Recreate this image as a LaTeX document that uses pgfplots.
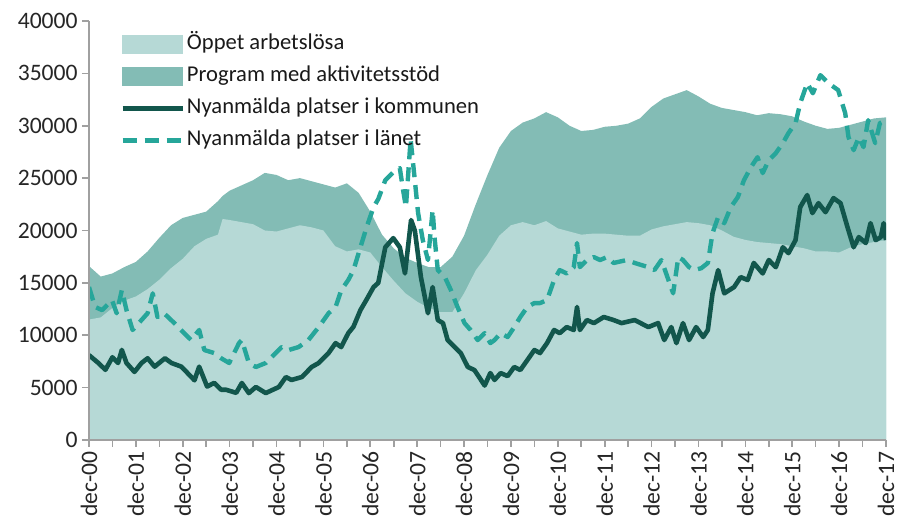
\documentclass[border=0pt]{standalone}
\usepackage{fontspec}
\setmainfont{Carlito}
\usepackage{pgfplots}
\pgfplotsset{compat=1.18}
\usepackage{pgfplotstable}
\definecolor{lightc}{RGB}{182,217,214}
\definecolor{darkc}{RGB}{131,188,181}
\definecolor{komc}{RGB}{18,86,76}
\definecolor{lanc}{RGB}{38,166,154}
\definecolor{axc}{RGB}{160,160,160}

% t = years after dec-00; L = Öppet arbetslösa; P = Program med aktivitetsstöd
\pgfplotstableread{
t L P
0 11500 5100
0.25 11700 3900
0.5 12600 3300
0.75 13300 3200
1.0 13700 3300
1.25 14400 3600
1.5 15300 4000
1.75 16400 4100
2.0 17300 3900
2.25 18500 3000
2.5 19200 2600
2.75 19600 3200
2.85 21100 2200
3.0 21000 2800
3.25 20800 3500
3.5 20600 4200
3.75 20000 5500
4.0 19900 5400
4.25 20200 4600
4.5 20500 4500
4.75 20300 4400
5.0 20000 4400
5.25 18500 5600
5.5 18000 6500
5.75 18200 5400
6.0 17900 3900
6.25 16500 3100
6.5 15200 3100
6.75 14000 3400
7.0 13200 3700
7.25 12600 3900
7.5 12200 4300
7.75 12200 5300
8.0 14000 5500
8.25 16200 6300
8.5 17700 7600
8.75 19500 8400
9.0 20500 9000
9.25 20800 9500
9.5 20500 10200
9.75 20900 10400
10.0 20200 10600
10.25 19900 10100
10.5 19600 9900
10.75 19700 9900
11.0 19700 10200
11.25 19600 10400
11.5 19500 10700
11.75 19500 11200
12.0 20100 11700
12.25 20400 12200
12.5 20600 12400
12.75 20800 12600
13.0 20700 12100
13.25 20500 11600
13.5 20000 11700
13.75 19400 12100
14.0 19100 12200
14.25 18900 12100
14.5 18800 12400
14.75 18700 12400
15.0 18500 12400
15.25 18300 12100
15.5 18000 12000
15.75 18000 11700
16.0 17900 11900
16.25 18400 11700
16.5 18700 11700
16.75 18900 11800
17.0 19100 11700
}\areadata

% Nyanmälda platser i kommunen
\pgfplotstableread{
t v
0 8100
0.2 7350
0.35 6700
0.5 7900
0.62 7350
0.7 8600
0.8 7350
0.97 6500
1.12 7350
1.25 7800
1.4 7000
1.62 7800
1.76 7350
1.97 7000
2.1 6400
2.25 5700
2.35 7000
2.52 5100
2.67 5450
2.82 4800
2.92 4800
3.14 4500
3.26 5440
3.41 4480
3.56 5060
3.77 4480
4.05 5060
4.2 6010
4.32 5730
4.54 6010
4.75 6970
4.9 7350
5.11 8300
5.26 9250
5.38 8870
5.53 10200
5.64 10800
5.79 12400
5.92 13400
6.07 14600
6.17 15000
6.32 18400
6.49 19270
6.63 18400
6.74 15900
6.87 21000
6.95 20000
7.08 15550
7.23 12100
7.33 14600
7.44 11450
7.55 11160
7.65 9540
7.8 8870
7.93 8300
8.08 6970
8.22 6680
8.44 5200
8.56 6390
8.65 5730
8.78 6390
8.93 6100
9.07 6970
9.2 6680
9.35 7630
9.5 8590
9.62 8300
9.77 9250
9.92 10500
10.04 10200
10.19 10780
10.34 10500
10.41 12700
10.47 10500
10.62 11450
10.77 11160
10.98 11740
11.19 11450
11.36 11160
11.64 11450
11.93 10780
12.14 11160
12.27 9540
12.42 10780
12.53 9250
12.67 11160
12.8 9540
12.95 10780
13.1 9830
13.2 10500
13.3 14000
13.42 16220
13.55 14000
13.76 14600
13.9 15550
14.05 15270
14.18 16900
14.37 15900
14.5 17180
14.65 16500
14.8 18400
14.92 17840
15.07 19080
15.17 22230
15.32 23380
15.43 21660
15.56 22610
15.71 21750
15.88 23090
16.03 22610
16.18 20300
16.31 18400
16.42 19370
16.57 18800
16.67 20700
16.78 19080
16.89 19370
16.95 20700
17.0 19080
}\komdata

% Nyanmälda platser i länet
\pgfplotstableread{
t v
0 14600
0.13 12700
0.28 12400
0.49 13360
0.59 12100
0.7 14300
0.8 12400
0.93 10500
1.12 11450
1.25 12100
1.36 14000
1.46 11740
1.6 12100
1.82 11160
2.03 10200
2.18 9540
2.35 10500
2.46 8590
2.67 8300
2.82 7800
2.99 7350
3.2 9250
3.26 9540
3.41 7350
3.56 6970
3.77 7350
3.98 8300
4.11 8870
4.26 8590
4.47 8870
4.68 9540
4.9 10780
5.11 12100
5.26 12700
5.38 14300
5.53 15270
5.64 16200
5.79 18400
5.92 20300
6.07 22230
6.17 23000
6.32 24800
6.49 25570
6.63 25950
6.7 23850
6.76 22230
6.86 28700
6.95 24800
7.02 21660
7.12 19080
7.23 17180
7.33 21950
7.37 19370
7.44 16220
7.59 15550
7.72 14300
7.86 12700
8.01 11160
8.14 10500
8.29 9540
8.44 10200
8.56 9250
8.65 9540
8.78 10200
8.93 9830
9.07 10780
9.2 11740
9.35 12700
9.5 13070
9.62 13070
9.77 13360
9.92 15270
10.04 16220
10.19 15900
10.34 16500
10.41 18800
10.47 16500
10.62 17180
10.77 17460
10.9 17180
11.05 17460
11.19 16900
11.47 17180
11.64 16900
11.93 16500
12.06 16220
12.21 17180
12.36 15270
12.46 14000
12.57 17460
12.67 17180
12.8 16500
12.91 16220
13.06 16400
13.2 16900
13.3 19750
13.42 21280
13.55 20700
13.69 22230
13.84 23190
13.97 24800
14.12 26050
14.26 27000
14.37 25480
14.5 26720
14.65 27390
14.8 28340
14.92 29300
15.07 30250
15.17 32150
15.32 34070
15.44 33100
15.6 34830
15.77 34070
15.98 33400
16.13 31200
16.2 28910
16.31 27670
16.42 28910
16.52 27960
16.62 30530
16.77 28340
16.87 30250
17.0 30530
}\landata

\begin{document}
\begin{tikzpicture}
\begin{axis}[name=ax, scale only axis, width=398.5pt, height=209.5pt,
  xmin=0, xmax=17, ymin=0, ymax=40000,
  axis x line=bottom, axis y line=left,
  axis line style={-, draw=axc, line width=0.8pt},
  tick align=outside, major tick length=3.5pt, minor tick length=3.5pt,
  every tick/.style={draw=axc, line width=0.8pt},
  xtick={0,...,17}, minor xtick={0.5,1.5,...,16.5},
  xticklabels={dec-00,dec-01,dec-02,dec-03,dec-04,dec-05,dec-06,dec-07,dec-08,dec-09,dec-10,dec-11,dec-12,dec-13,dec-14,dec-15,dec-16,dec-17},
  xticklabel style={rotate=90, anchor=east, inner sep=2pt},
  ytick={0,5000,...,40000},
  scaled y ticks=false,
  yticklabel style={/pgf/number format/fixed, /pgf/number format/1000 sep={}, inner sep=2pt},
  /pgf/number format/assume math mode=true,
  ticklabel style={font=\fontsize{11.8}{14}\selectfont, text=black!85},
  axis on top,
  legend cell align=left,
  legend style={at={(0.0389,0.975)}, anchor=north west, draw=none, fill=none,
    inner sep=0pt, font=\fontsize{11.3}{13}\selectfont, row sep=3.5pt,
    nodes={inner sep=1pt, text height=8pt, text depth=2.5pt, text=black!90}},
]
% total height of the stack (Öppet + Program), drawn first
\addplot[fill=darkc, draw=none, forget plot]
  table[x=t, y expr=\thisrow{L}+\thisrow{P}]{\areadata} \closedcycle;
% Öppet arbetslösa on top of it
\addplot[fill=lightc, draw=none, forget plot]
  table[x=t, y=L]{\areadata} \closedcycle;
\addlegendimage{legend image code/.code={\fill[lightc] (0pt,-4.5pt) rectangle (30pt,4.5pt);}}
\addlegendentry{Öppet arbetslösa}
\addlegendimage{legend image code/.code={\fill[darkc] (0pt,-4.5pt) rectangle (30pt,4.5pt);}}
\addlegendentry{Program med aktivitetsstöd}
\addplot[komc, line width=2.3pt, line join=round,
  legend image code/.code={\draw[komc, line width=2.3pt] (0pt,0pt) -- (30pt,0pt);}]
  table[x=t, y=v]{\komdata};
\addlegendentry{Nyanmälda platser i kommunen}
\addplot[lanc, line width=2.2pt, line join=round, dash pattern=on 7pt off 4pt,
  legend image code/.code={\draw[lanc, line width=2.2pt, dash pattern=on 7pt off 4pt] (0pt,0pt) -- (30pt,0pt);}]
  table[x=t, y=v]{\landata};
\addlegendentry{Nyanmälda platser i länet}
\end{axis}
\pgfresetboundingbox
\path[use as bounding box] ([xshift=-44.5pt, yshift=-38.5pt]ax.south west) rectangle ([xshift=7.5pt, yshift=10.5pt]ax.north east);
\end{tikzpicture}
\end{document}
